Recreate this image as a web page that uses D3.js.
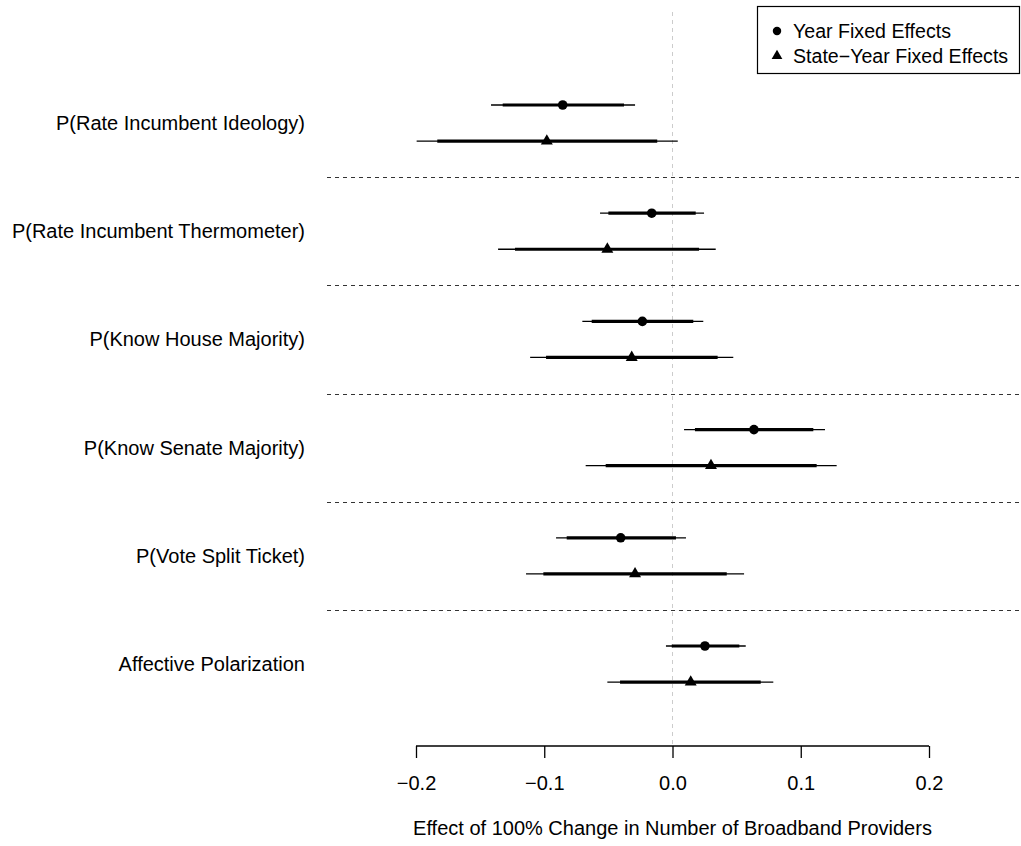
<!DOCTYPE html>
<html>
<head>
<meta charset="utf-8">
<script src="https://cdn.jsdelivr.net/npm/d3@7"></script>
<style>
  html, body { margin: 0; padding: 0; background: #fff; }
  svg { display: block; font-family: "Liberation Sans", Arial, sans-serif; }
</style>
</head>
<body>
<svg id="chart" width="1021" height="846"></svg>
<script>
// Outcomes, top to bottom
const categories = [
  "P(Rate Incumbent Ideology)",
  "P(Rate Incumbent Thermometer)",
  "P(Know House Majority)",
  "P(Know Senate Majority)",
  "P(Vote Split Ticket)",
  "Affective Polarization"
];

// Year fixed effects: point estimates, 90% and 95% intervals
const yearEst   = [-0.0856, -0.0162, -0.0235, 0.0635, -0.0404, 0.0253];
const yearLo90  = [-0.1324, -0.0500, -0.0630, 0.0175, -0.0825, -0.0006];
const yearHi90  = [-0.0378,  0.0181,  0.0162, 0.1098,  0.0027,  0.0521];
const yearLo95  = [-0.1415, -0.0565, -0.0703, 0.0090, -0.0908, -0.0051];
const yearHi95  = [-0.0292,  0.0246,  0.0240, 0.1189,  0.0105,  0.0571];

// State-year fixed effects
const stateEst  = [-0.0980, -0.0508, -0.0318, 0.0300, -0.0292, 0.0142];
const stateLo90 = [-0.1834, -0.1228, -0.0986, -0.0521, -0.1007, -0.0409];
const stateHi90 = [-0.0119,  0.0207,  0.0352,  0.1124,  0.0423,  0.0688];
const stateLo95 = [-0.1995, -0.1360, -0.1110, -0.0677, -0.1142, -0.0508];
const stateHi95 = [ 0.0041,  0.0337,  0.0474,  0.1280,  0.0558,  0.0786];

const xTicks = [-0.2, -0.1, 0.0, 0.1, 0.2];
const seriesNames = ["Year Fixed Effects", "State\u2212Year Fixed Effects"];
const xTitle = "Effect of 100% Change in Number of Broadband Providers";

const svg = d3.select("#chart");
const FONT = 20;

const x = d3.scaleLinear().domain([-0.2, 0.2]).range([416, 929]);
// one unit per outcome; the second estimate sits a third of a unit lower
const y = d3.scaleLinear().domain([0, 1]).range([105, 213.2]);
const OFFSET = 1 / 3;

// zero reference line
svg.append("line")
  .attr("x1", x(0)).attr("x2", x(0))
  .attr("y1", 12).attr("y2", 745)
  .attr("stroke", "#cccccc").attr("stroke-width", 1)
  .attr("stroke-dasharray", "4,4");

// separators between outcomes
svg.append("g").selectAll("line")
  .data(d3.range(categories.length - 1))
  .join("line")
  .attr("x1", 327).attr("x2", 1021)
  .attr("y1", d => Math.round(y(d + 0.667)) + 0.5)
  .attr("y2", d => Math.round(y(d + 0.667)) + 0.5)
  .attr("stroke", "#333").attr("stroke-width", 1)
  .attr("stroke-dasharray", "4,4");

// outcome labels
svg.append("g").selectAll("text")
  .data(categories)
  .join("text")
  .attr("x", 305)
  .attr("y", (d, i) => y(i + OFFSET / 2))
  .attr("dy", "0.35em")
  .attr("text-anchor", "end")
  .attr("font-size", FONT)
  .attr("fill", "#000")
  .text(d => d);

function drawSeries(est, lo90, hi90, lo95, hi95, off, shape) {
  const rows = est.map((e, i) => ({ i, e, lo90: lo90[i], hi90: hi90[i], lo95: lo95[i], hi95: hi95[i] }));
  const g = svg.append("g");
  g.selectAll("line.ci95").data(rows).join("line")
    .attr("class", "ci95")
    .attr("x1", d => x(d.lo95)).attr("x2", d => x(d.hi95))
    .attr("y1", d => y(d.i + off)).attr("y2", d => y(d.i + off))
    .attr("stroke", "#000").attr("stroke-width", 1.3);
  g.selectAll("line.ci90").data(rows).join("line")
    .attr("class", "ci90")
    .attr("x1", d => x(d.lo90)).attr("x2", d => x(d.hi90))
    .attr("y1", d => y(d.i + off)).attr("y2", d => y(d.i + off))
    .attr("stroke", "#000").attr("stroke-width", 3.2);
  g.selectAll("path.pt").data(rows).join("path")
    .attr("class", "pt")
    .attr("d", d3.symbol().type(shape).size(shape === d3.symbolCircle ? 72 : 62))
    .attr("transform", d => `translate(${x(d.e)},${y(d.i + off)})`)
    .attr("fill", "#000");
}

drawSeries(yearEst, yearLo90, yearHi90, yearLo95, yearHi95, 0, d3.symbolCircle);
drawSeries(stateEst, stateLo90, stateHi90, stateLo95, stateHi95, OFFSET, d3.symbolTriangle);

// x axis
const axis = svg.append("g")
  .attr("transform", "translate(0,746)")
  .call(d3.axisBottom(x).tickValues(xTicks).tickFormat(d3.format(".1f")).tickSize(12).tickPadding(18));
axis.select(".domain").attr("stroke", "#000").attr("stroke-width", 1.3)
  .attr("d", `M${x(-0.2)},0H${x(0.2)}`);
axis.selectAll(".tick line").attr("stroke", "#000").attr("stroke-width", 1.3);
axis.selectAll(".tick text").attr("font-size", FONT).attr("fill", "#000")
  .attr("font-family", "Liberation Sans, Arial, sans-serif");

svg.append("text")
  .attr("x", x(0)).attr("y", 835)
  .attr("text-anchor", "middle")
  .attr("font-size", FONT)
  .text(xTitle);

// legend
const leg = svg.append("g");
leg.append("rect")
  .attr("x", 757.5).attr("y", 6.5).attr("width", 262).attr("height", 67)
  .attr("fill", "#fff").attr("stroke", "#000").attr("stroke-width", 1.2);
const legShapes = [d3.symbolCircle, d3.symbolTriangle];
seriesNames.forEach((name, k) => {
  const cy = 31 + k * 25;
  leg.append("path")
    .attr("d", d3.symbol().type(legShapes[k]).size(k === 0 ? 56 : 50))
    .attr("transform", `translate(777,${cy})`)
    .attr("fill", "#000");
  leg.append("text")
    .attr("x", 793).attr("y", cy).attr("dy", "0.35em")
    .attr("font-size", FONT * 0.98)
    .text(name);
});
</script>
</body>
</html>
